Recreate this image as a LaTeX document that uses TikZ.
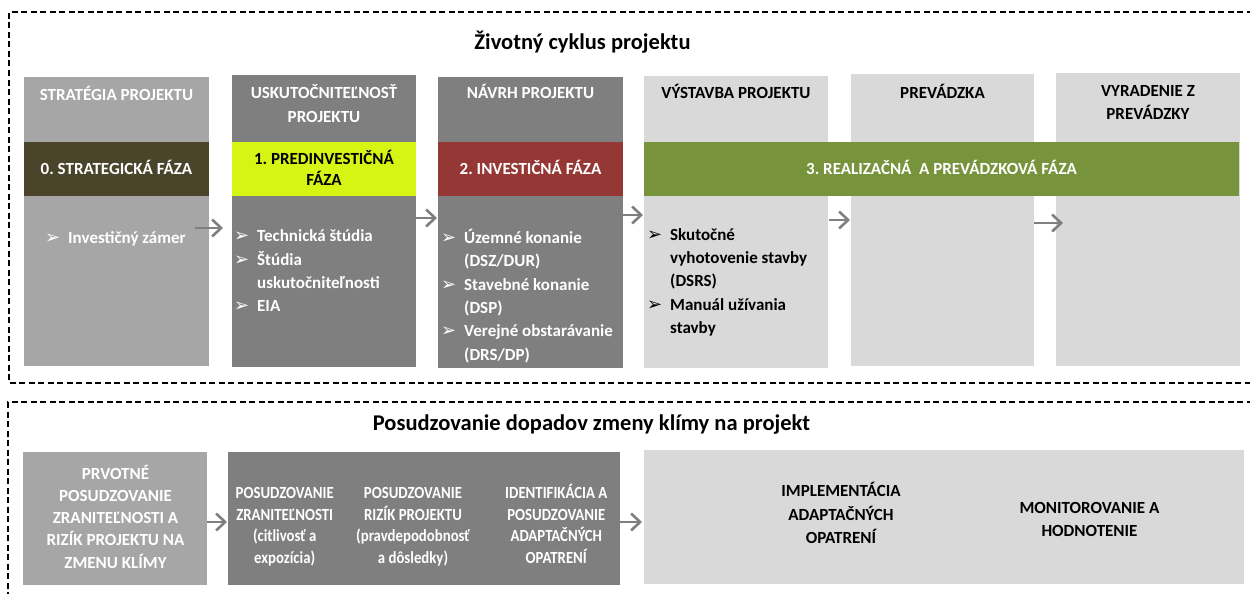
\documentclass[tikz,border=0pt]{standalone}
\usepackage{fontspec}
\setmainfont{Carlito}
\newfontfamily\dingfont{DejaVu Sans}
\usetikzlibrary{arrows.meta}
\frenchspacing

\definecolor{graylight}{HTML}{A6A6A6}
\definecolor{graymid}{HTML}{7F7F7F}
\definecolor{graypale}{HTML}{D9D9D9}
\definecolor{phasezero}{HTML}{4A442A}
\definecolor{phaseone}{HTML}{D6F514}
\definecolor{phasetwo}{HTML}{953735}
\definecolor{phasethree}{HTML}{77933C}

% stacked lines, baseline on the first line
\newcommand{\stk}[2][c]{\begin{tabular}[t]{@{}#1@{}}#2\end{tabular}}
% bulleted lines: bullet column + text column
\newcommand{\blist}[1]{\begin{tabular}[t]{@{}l@{}l@{}}#1\end{tabular}}
% list bullet
\newcommand{\bul}{\makebox[23pt][l]{\dingfont\fontsize{18}{18}\selectfont ➢}}

\begin{document}
\begin{tikzpicture}[x=1pt, y=-1pt,
  panel/.style={anchor=north west, inner sep=0pt, outer sep=0pt, draw=none},
  txt/.style={inner sep=0pt, anchor=base, font=\fontsize{17}{23.4}\selectfont\bfseries},
  listtxt/.style={txt, anchor=base west},
  title/.style={inner sep=0pt, anchor=base, font=\fontsize{22.5}{27}\selectfont\bfseries},
  frame/.style={draw=black, line width=1.6pt, dash pattern=on 6pt off 3.5pt},
  arr/.style={draw=graymid, line width=2.6pt, -{Straight Barb[length=9pt, width=17pt]}}
]
\useasboundingbox (0,0) rectangle (1250,594);
\fill[white] (0,0) rectangle (1250,594);
\clip (0,0) rectangle (1250,594);

% ---------- project life cycle ----------
\draw[frame] (1262,12) -- (9,12) -- (9,383) -- (1262,383);
\node[title] (t1) at (582.5,49) {Životný cyklus projektu};

% columns
\node[panel, fill=graylight, minimum width=185pt, minimum height=289pt] (c1) at (24,77) {};
\node[panel, fill=graymid,   minimum width=184pt, minimum height=292pt] (c2) at (232,75) {};
\node[panel, fill=graymid,   minimum width=185pt, minimum height=291pt] (c3) at (438,77) {};
\node[panel, fill=graypale,  minimum width=184pt, minimum height=292pt] (c4) at (644,76) {};
\node[panel, fill=graypale,  minimum width=183pt, minimum height=292pt] (c5) at (851,74) {};
\node[panel, fill=graypale,  minimum width=184pt, minimum height=293pt] (c6) at (1056,73) {};

% column headings
\node[txt, text=white] (h1) at (116.5,100) {STRATÉGIA PROJEKTU};
\node[txt, text=white] (h2) at (324,99) {\stk{USKUTOČNITEĽNOSŤ\\PROJEKTU}};
\node[txt, text=white] (h3) at (530.5,99) {NÁVRH PROJEKTU};
\node[txt, text=black] (h4) at (736,99) {VÝSTAVBA PROJEKTU};
\node[txt, text=black] (h5) at (942.5,98) {PREVÁDZKA};
\node[txt, text=black] (h6) at (1148,96) {\stk{VYRADENIE Z\\PREVÁDZKY}};

% phase bands
\node[panel, fill=phasezero, minimum width=185pt, minimum height=54pt] (p0) at (24,142) {};
\node[panel, fill=phaseone,  minimum width=184pt, minimum height=54pt] (p1) at (232,142) {};
\node[panel, fill=phasetwo,  minimum width=185pt, minimum height=54pt] (p2) at (438,142) {};
\node[panel, fill=phasethree,minimum width=595pt, minimum height=54pt] (p3) at (644,142) {};
\node[txt, text=white] (p0t) at (116.5,174) {0. STRATEGICKÁ FÁZA};
\node[txt, text=black] (p1t) at (324,164) {\stk[c]{1. PREDINVESTIČNÁ\\[-2.4pt]FÁZA}};
\node[txt, text=white] (p2t) at (530.5,174) {2. INVESTIČNÁ FÁZA};
\node[txt, text=white] (p3t) at (941.5,174) {3. REALIZAČNÁ\ \ A PREVÁDZKOVÁ FÁZA};

% column contents
\node[listtxt, text=white] (l1) at (45,243) {\blist{\bul & Investičný zámer}};
\node[listtxt, text=white] (l2) at (234,241.7) {\blist{\bul & Technická štúdia\\ \bul & Štúdia\\ & uskutočniteľnosti\\ \bul & EIA}};
\node[listtxt, text=white] (l3) at (441,243.3) {\blist{\bul & Územné konanie\\ & (DSZ/DUR)\\ \bul & Stavebné konanie\\ & (DSP)\\ \bul & Verejné obstarávanie\\ & (DRS/DP)}};
\node[listtxt, text=black] (l4) at (647,240) {\blist{\bul & Skutočné\\ & vyhotovenie stavby\\ & (DSRS)\\ \bul & Manuál užívania\\ & stavby}};

% flow between stages
\draw[arr] ([shift={(-14,6.5)}]c1.east) -- ([shift={(-9,7)}]c2.west);
\draw[arr] ([shift={(-6,-3)}]c2.east) -- ([shift={(-1,-4.5)}]c3.west);
\draw[arr] ([shift={(-3,-7.5)}]c3.east) -- ([shift={(-1,-7)}]c4.west);
\draw[arr] ([shift={(1,-2)}]c4.east) -- ([shift={(-1,0)}]c5.west);
\draw[arr] ([shift={(0,3)}]c5.east) -- ([shift={(7,3.5)}]c6.west);

% ---------- climate impact assessment ----------
\draw[frame] (1262,402) -- (8,402) -- (8,606);
\node[title] (t2) at (591.5,430) {Posudzovanie dopadov zmeny klímy na projekt};

\node[panel, fill=graylight, minimum width=184pt, minimum height=133pt] (a1) at (23,452) {};
\node[panel, fill=graymid,   minimum width=392pt, minimum height=133pt] (a2) at (228,452) {};
\node[panel, fill=graypale,  minimum width=600pt, minimum height=134pt] (a3) at (644,450) {};

\node[txt, text=white, font=\fontsize{17}{22.3}\selectfont\bfseries] (a1t) at (115.5,479)
  {\stk{PRVOTNÉ\\POSUDZOVANIE\\ZRANITEĽNOSTI A\\RIZÍK PROJEKTU NA\\ZMENU KLÍMY}};
\node[txt, text=white, font=\fontsize{17}{21.7}\selectfont\bfseries] (a2t) at (284.7,498.3)
  {\scalebox{0.87}[1]{\stk{POSUDZOVANIE\\ZRANITEĽNOSTI\\(citlivosť a\\expozícia)}}};
\node[txt, text=white, font=\fontsize{17}{21.7}\selectfont\bfseries] (a2u) at (413,498.3)
  {\scalebox{0.87}[1]{\stk{POSUDZOVANIE\\RIZÍK PROJEKTU\\(pravdepodobnosť\\a dôsledky)}}};
\node[txt, text=white, font=\fontsize{17}{21.7}\selectfont\bfseries] (a2v) at (556.3,498.3)
  {\scalebox{0.87}[1]{\stk{IDENTIFIKÁCIA A\\POSUDZOVANIE\\ADAPTAČNÝCH\\OPATRENÍ}}};
\node[txt, text=black] (a3t) at (841,496.7) {\stk{IMPLEMENTÁCIA\\ADAPTAČNÝCH\\OPATRENÍ}};
\node[txt, text=black] (a3u) at (1089.5,513.3) {\stk{MONITOROVANIE A\\HODNOTENIE}};

\draw[arr] ([shift={(0,3.5)}]a1.east) -- ([shift={(-1,3.5)}]a2.west);
\draw[arr] ([shift={(0,3.5)}]a2.east) -- ([shift={(-2,5)}]a3.west);
\end{tikzpicture}
\end{document}
